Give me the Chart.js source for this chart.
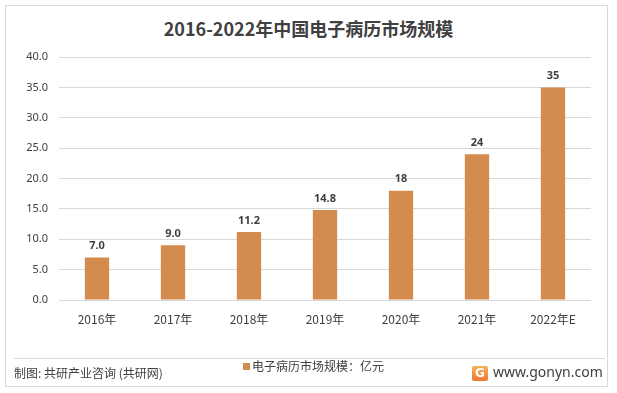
<!DOCTYPE html>
<html lang="zh">
<head>
    <meta charset="UTF-8">
    <title>2016-2022年中国电子病历市场规模</title>
    <script src="https://cdn.jsdelivr.net/npm/chart.js"></script>
    <style>
        body {
            margin: 0;
            background: #fff;
            font-family: "Noto Sans CJK SC", "Noto Sans", sans-serif;
        }
        #wrap {
            position: relative;
            width: 617px;
            height: 393px;
        }
        #frame {
            position: absolute;
            left: 5px;
            top: 5px;
            width: 603px;
            height: 382px;
            border: 1px solid #d9d9d9;
            box-sizing: border-box;
        }
        #title {
            position: absolute;
            left: 0;
            width: 617px;
            top: 15px;
            text-align: center;
            font-size: 18px;
            font-weight: bold;
            color: #404040;
        }
        #chartBox {
            position: absolute;
            left: 0;
            top: 0;
            width: 617px;
            height: 393px;
        }
        #sep {
            position: absolute;
            left: 14px;
            width: 591px;
            top: 358px;
            border-top: 1px solid #d9d9d9;
        }
        .foot {
            position: absolute;
            font-size: 12px;
            color: #404040;
        }
        #legend {
            position: absolute;
            left: 243px;
            top: 357px;
            font-size: 12px;
            color: #404040;
        }
        #legend i {
            display: inline-block;
            width: 7px;
            height: 7px;
            background: #d48b4e;
            margin-right: 2px;
            vertical-align: 1px;
        }
        #logo {
            position: absolute;
            left: 472px;
            top: 366px;
            width: 16px;
            height: 15px;
            border-radius: 2px;
            background: linear-gradient(#f6b15a, #ea7a33);
            color: #fff;
            font: bold 12px "DejaVu Sans", sans-serif;
            text-align: center;
            line-height: 15px;
        }
    </style>
</head>
<body>
<div id="wrap">
    <div id="frame"></div>
    <div id="title">2016-2022年中国电子病历市场规模</div>
    <div id="chartBox"><canvas id="myBarChart"></canvas></div>
    <div id="sep"></div>
    <div class="foot" style="left:14px; top:364px;">制图: 共研产业咨询 (共研网)</div>
    <div id="legend"><i></i>电子病历市场规模：亿元</div>
    <div id="logo">G</div>
    <div class="foot" style="left:493px; top:362px; font-size:14px; font-family:'Noto Sans', sans-serif;">www.gonyn.com</div>
</div>

<script>
    const categories = ['2016年', '2017年', '2018年', '2019年', '2020年', '2021年', '2022年E'];
    const marketSize = [7.0, 9.0, 11.2, 14.8, 18, 24, 35];
    const valueLabels = ['7.0', '9.0', '11.2', '14.8', '18', '24', '35'];
    const yTicks = [0, 5, 10, 15, 20, 25, 30, 35, 40];

    // Werte über den Balken
    const barLabels = {
        id: 'barLabels',
        afterDatasetsDraw(chart) {
            const ctx = chart.ctx;
            const meta = chart.getDatasetMeta(0);
            ctx.save();
            ctx.font = 'bold 11px "Noto Sans", "DejaVu Sans", sans-serif';
            ctx.fillStyle = '#404040';
            ctx.textAlign = 'center';
            ctx.textBaseline = 'bottom';
            meta.data.forEach((bar, i) => {
                ctx.fillText(valueLabels[i], bar.x, bar.y - 6);
            });
            ctx.restore();
        }
    };

    const ctx = document.getElementById('myBarChart').getContext('2d');
    const myBarChart = new Chart(ctx, {
        type: 'bar',
        data: {
            labels: categories,
            datasets: [
                {
                    label: '电子病历市场规模：亿元',
                    data: marketSize,
                    backgroundColor: '#d48b4e',
                    categoryPercentage: 1,
                    barPercentage: 0.32
                }
            ]
        },
        options: {
            responsive: true,
            maintainAspectRatio: false,
            animation: false,
            layout: {
                padding: { top: 57, right: 26, left: 0, bottom: 0 }
            },
            plugins: {
                legend: { display: false },
                tooltip: { enabled: false }
            },
            scales: {
                x: {
                    grid: { display: false, drawTicks: false },
                    border: { display: false },
                    ticks: {
                        padding: 12,
                        color: '#404040',
                        font: { size: 12, family: '"Noto Sans CJK SC", sans-serif' }
                    },
                    afterFit(scale) { scale.height = 93; }
                },
                y: {
                    min: 0,
                    max: 40,
                    afterBuildTicks(scale) {
                        scale.ticks = yTicks.map(v => ({ value: v }));
                    },
                    grid: { color: '#d9d9d9', drawTicks: false },
                    border: { display: false },
                    ticks: {
                        padding: 11,
                        color: '#404040',
                        font: { size: 11, family: '"Noto Sans", sans-serif' },
                        callback: v => v.toFixed(1)
                    },
                    afterFit(scale) { scale.width = 59; }
                }
            }
        },
        plugins: [barLabels]
    });
</script>
</body>
</html>
